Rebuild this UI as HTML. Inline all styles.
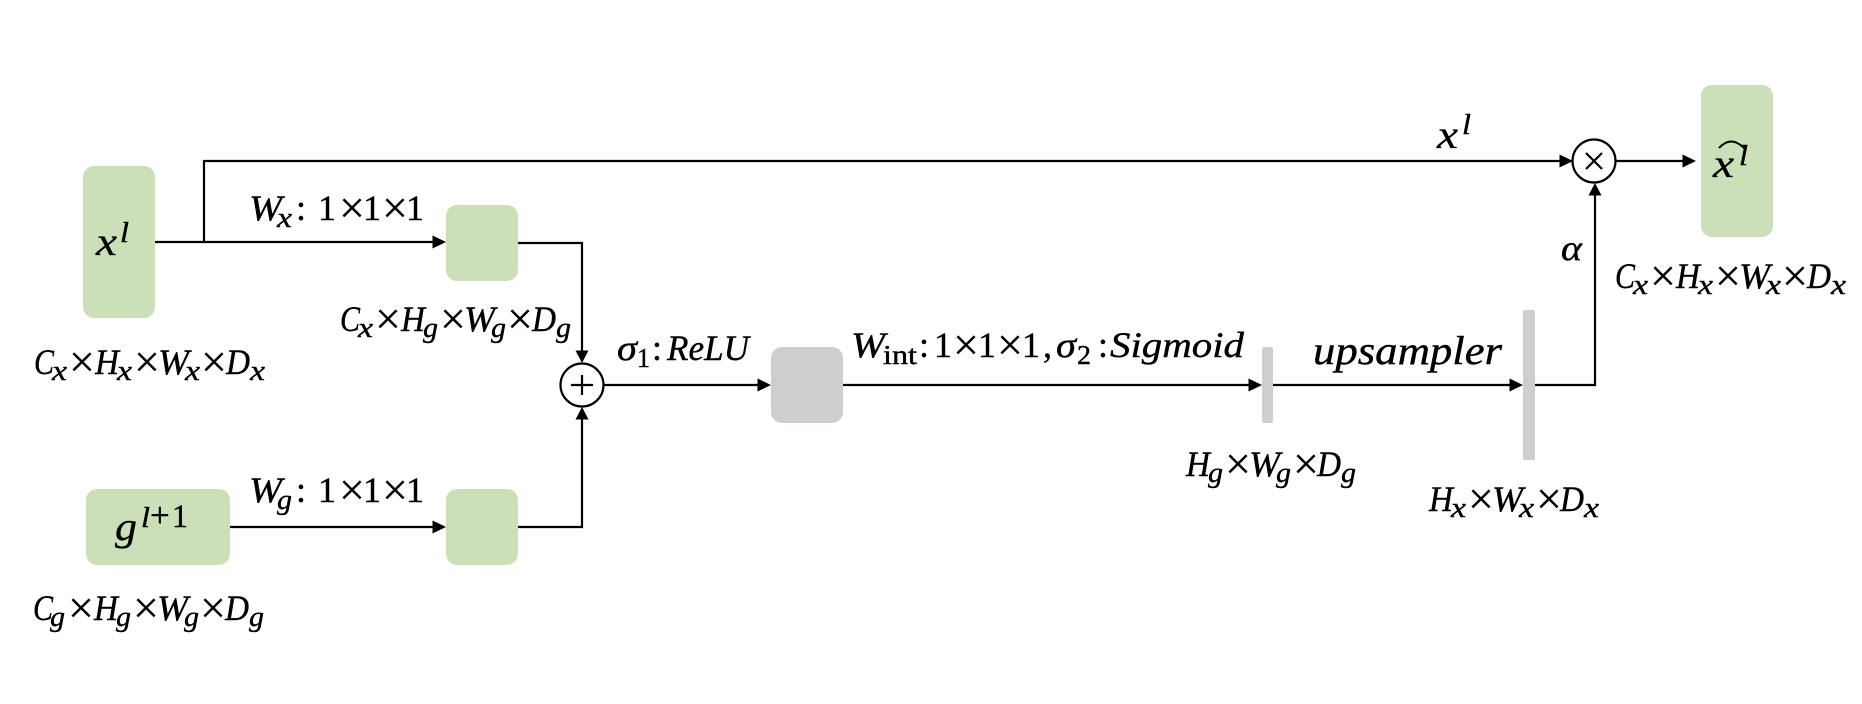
<!DOCTYPE html>
<html><head><meta charset="utf-8">
<style>
html,body{margin:0;padding:0;background:#fff}
svg{display:block}
text{fill:#000;stroke:#000;stroke-width:.4px;font-family:"Liberation Serif",serif;font-size:36px}
.i{font-style:italic}
.s{font-style:italic;font-size:29px}
.r{font-size:27px}
.m{font-size:46px;stroke-width:.2px}
.b{font-style:italic;font-size:40px;stroke-width:.3px}
.u{font-style:italic;font-size:29px}
</style></head><body>
<svg width="1862" height="704" viewBox="0 0 1862 704" xmlns="http://www.w3.org/2000/svg">
<rect width="1862" height="704" fill="#fff"/>
<g fill="#CBDFB8">
<rect x="83" y="166" width="72" height="152" rx="11"/>
<rect x="446" y="205" width="72" height="76" rx="11"/>
<rect x="86" y="489" width="144" height="76" rx="11"/>
<rect x="446" y="489" width="72" height="76" rx="11"/>
<rect x="1701" y="85" width="72" height="152" rx="11"/>
</g>
<g fill="#CFCDCE">
<rect x="771" y="347" width="72" height="76" rx="11"/>
<rect x="1262" y="347" width="11" height="76" rx="2"/>
<rect x="1523" y="310" width="12" height="150" rx="2"/>
</g>
<g fill="none" stroke="#000" stroke-width="2.2">
<path d="M155 242H434"/>
<path d="M204 242V161H1561"/>
<path d="M518 243H582V352"/>
<path d="M230 527H434"/>
<path d="M518 527H582V418"/>
<path d="M604 385H758"/>
<path d="M843 385H1249"/>
<path d="M1273 385H1511"/>
<path d="M1535 385H1595V195"/>
<path d="M1615 161H1684"/>
<circle cx="582" cy="385" r="21.5"/>
<circle cx="1594" cy="161" r="21.5"/>
<path d="M582 375V395M571 385H593"/>
<path d="M1586 153L1602 169M1602 153L1586 169"/>
<path d="M1719 148Q1731 135 1744 148" stroke-width="2"/>
</g>
<g fill="#000">
<path d="M446 242L432.500 235.500V248.500Z"/>
<path d="M582 363L575.500 350.500H588.500Z"/>
<path d="M446 527L432.500 520.500V533.500Z"/>
<path d="M582 407L575.500 419.500H588.500Z"/>
<path d="M771 385L757.500 378.500V391.500Z"/>
<path d="M1262 385L1248.500 378.500V391.500Z"/>
<path d="M1523 385L1509.500 378.500V391.500Z"/>
<path d="M1595 183L1588.500 195.500H1601.500Z"/>
<path d="M1573 161L1559.500 154.500V167.500Z"/>
<path d="M1696 161L1682.500 154.500V167.500Z"/>
</g>

<!-- x^l in box -->
<text class="b" x="96" y="255" textLength="21" lengthAdjust="spacingAndGlyphs">x</text>
<text class="u" x="120" y="242" textLength="9" lengthAdjust="spacingAndGlyphs">l</text>

<!-- Wx 1x1x1 -->
<text class="i" x="249" y="220" textLength="33" lengthAdjust="spacingAndGlyphs">W</text>
<text class="s" x="277" y="227" textLength="15" lengthAdjust="spacingAndGlyphs">x</text>
<text x="296" y="220">:</text>
<text x="318" y="220" textLength="18" lengthAdjust="spacingAndGlyphs">1</text>
<text class="m" x="339" y="223">×</text>
<text x="363" y="220" textLength="18" lengthAdjust="spacingAndGlyphs">1</text>
<text class="m" x="382" y="223">×</text>
<text x="406" y="220" textLength="18" lengthAdjust="spacingAndGlyphs">1</text>

<!-- Cx Hg Wg Dg (mid) -->
<text class="i" x="340" y="331" textLength="20" lengthAdjust="spacingAndGlyphs">C</text>
<text class="s" x="358" y="337" textLength="15" lengthAdjust="spacingAndGlyphs">x</text>
<text class="m" x="375" y="334">×</text>
<text class="i" x="401" y="331" textLength="24" lengthAdjust="spacingAndGlyphs">H</text>
<text class="s" x="423" y="337" textLength="15" lengthAdjust="spacingAndGlyphs">g</text>
<text class="m" x="440" y="334">×</text>
<text class="i" x="464" y="331" textLength="31" lengthAdjust="spacingAndGlyphs">W</text>
<text class="s" x="491" y="337" textLength="15" lengthAdjust="spacingAndGlyphs">g</text>
<text class="m" x="507" y="334">×</text>
<text class="i" x="532" y="331" textLength="24" lengthAdjust="spacingAndGlyphs">D</text>
<text class="s" x="556" y="337" textLength="15" lengthAdjust="spacingAndGlyphs">g</text>

<!-- Cx Hx Wx Dx (left) -->
<text class="i" x="34" y="374" textLength="20" lengthAdjust="spacingAndGlyphs">C</text>
<text class="s" x="52" y="380" textLength="15" lengthAdjust="spacingAndGlyphs">x</text>
<text class="m" x="69" y="377">×</text>
<text class="i" x="95" y="374" textLength="24" lengthAdjust="spacingAndGlyphs">H</text>
<text class="s" x="117" y="380" textLength="15" lengthAdjust="spacingAndGlyphs">x</text>
<text class="m" x="134" y="377">×</text>
<text class="i" x="158" y="374" textLength="31" lengthAdjust="spacingAndGlyphs">W</text>
<text class="s" x="185" y="380" textLength="15" lengthAdjust="spacingAndGlyphs">x</text>
<text class="m" x="201" y="377">×</text>
<text class="i" x="226" y="374" textLength="24" lengthAdjust="spacingAndGlyphs">D</text>
<text class="s" x="250" y="380" textLength="15" lengthAdjust="spacingAndGlyphs">x</text>

<!-- g^{l+1} -->
<text class="b" x="115" y="540" textLength="22" lengthAdjust="spacingAndGlyphs">g</text>
<text class="u" x="141" y="527" textLength="9" lengthAdjust="spacingAndGlyphs">l</text>
<text x="150" y="527" style="font-size:35px">+</text>
<text x="172" y="527" style="font-size:33px" textLength="16" lengthAdjust="spacingAndGlyphs">1</text>

<!-- Wg 1x1x1 -->
<text class="i" x="249" y="502" textLength="33" lengthAdjust="spacingAndGlyphs">W</text>
<text class="s" x="277" y="509" textLength="15" lengthAdjust="spacingAndGlyphs">g</text>
<text x="296" y="502">:</text>
<text x="318" y="502" textLength="18" lengthAdjust="spacingAndGlyphs">1</text>
<text class="m" x="339" y="505">×</text>
<text x="363" y="502" textLength="18" lengthAdjust="spacingAndGlyphs">1</text>
<text class="m" x="382" y="505">×</text>
<text x="406" y="502" textLength="18" lengthAdjust="spacingAndGlyphs">1</text>

<!-- Cg Hg Wg Dg (left) -->
<text class="i" x="33" y="620" textLength="20" lengthAdjust="spacingAndGlyphs">C</text>
<text class="s" x="50" y="626" textLength="15" lengthAdjust="spacingAndGlyphs">g</text>
<text class="m" x="68" y="623">×</text>
<text class="i" x="94" y="620" textLength="24" lengthAdjust="spacingAndGlyphs">H</text>
<text class="s" x="116" y="626" textLength="15" lengthAdjust="spacingAndGlyphs">g</text>
<text class="m" x="133" y="623">×</text>
<text class="i" x="157" y="620" textLength="31" lengthAdjust="spacingAndGlyphs">W</text>
<text class="s" x="184" y="626" textLength="15" lengthAdjust="spacingAndGlyphs">g</text>
<text class="m" x="200" y="623">×</text>
<text class="i" x="225" y="620" textLength="24" lengthAdjust="spacingAndGlyphs">D</text>
<text class="s" x="249" y="626" textLength="15" lengthAdjust="spacingAndGlyphs">g</text>

<!-- sigma1 ReLU -->
<text class="i" x="617" y="360" textLength="20" lengthAdjust="spacingAndGlyphs">σ</text>
<text class="r" x="637" y="367" textLength="13" lengthAdjust="spacingAndGlyphs">1</text>
<text x="652" y="360">:</text>
<text class="i" x="667" y="360" textLength="82" lengthAdjust="spacingAndGlyphs">ReLU</text>

<!-- Wint ... Sigmoid -->
<text class="i" x="851" y="357" textLength="34" lengthAdjust="spacingAndGlyphs">W</text>
<text class="r" x="883" y="364" textLength="34" lengthAdjust="spacingAndGlyphs">int</text>
<text x="919" y="357">:</text>
<text x="934" y="357" textLength="18" lengthAdjust="spacingAndGlyphs">1</text>
<text class="m" x="953" y="360">×</text>
<text x="978" y="357" textLength="18" lengthAdjust="spacingAndGlyphs">1</text>
<text class="m" x="997" y="360">×</text>
<text x="1022" y="357" textLength="18" lengthAdjust="spacingAndGlyphs">1</text>
<text x="1043" y="357">,</text>
<text class="i" x="1056" y="357" textLength="20" lengthAdjust="spacingAndGlyphs">σ</text>
<text class="r" x="1077" y="364" textLength="14" lengthAdjust="spacingAndGlyphs">2</text>
<text x="1098" y="357">:</text>
<text class="i" x="1110" y="357" textLength="134" lengthAdjust="spacingAndGlyphs">Sigmoid</text>

<!-- Hg Wg Dg -->
<text class="i" x="1186" y="476" textLength="24" lengthAdjust="spacingAndGlyphs">H</text>
<text class="s" x="1208" y="482" textLength="15" lengthAdjust="spacingAndGlyphs">g</text>
<text class="m" x="1225" y="479">×</text>
<text class="i" x="1249" y="476" textLength="31" lengthAdjust="spacingAndGlyphs">W</text>
<text class="s" x="1276" y="482" textLength="15" lengthAdjust="spacingAndGlyphs">g</text>
<text class="m" x="1293" y="479">×</text>
<text class="i" x="1317" y="476" textLength="24" lengthAdjust="spacingAndGlyphs">D</text>
<text class="s" x="1341" y="482" textLength="15" lengthAdjust="spacingAndGlyphs">g</text>

<!-- upsampler -->
<text class="i" x="1313" y="364" style="font-size:40px" textLength="189" lengthAdjust="spacingAndGlyphs">upsampler</text>

<!-- Hx Wx Dx -->
<text class="i" x="1429" y="511" textLength="24" lengthAdjust="spacingAndGlyphs">H</text>
<text class="s" x="1451" y="517" textLength="15" lengthAdjust="spacingAndGlyphs">x</text>
<text class="m" x="1468" y="514">×</text>
<text class="i" x="1492" y="511" textLength="31" lengthAdjust="spacingAndGlyphs">W</text>
<text class="s" x="1519" y="517" textLength="15" lengthAdjust="spacingAndGlyphs">x</text>
<text class="m" x="1536" y="514">×</text>
<text class="i" x="1560" y="511" textLength="24" lengthAdjust="spacingAndGlyphs">D</text>
<text class="s" x="1584" y="517" textLength="15" lengthAdjust="spacingAndGlyphs">x</text>

<!-- x^l top -->
<text class="b" x="1437" y="148" textLength="21" lengthAdjust="spacingAndGlyphs">x</text>
<text class="u" x="1462" y="134" textLength="9" lengthAdjust="spacingAndGlyphs">l</text>

<!-- alpha -->
<text class="i" x="1561" y="260" textLength="21" lengthAdjust="spacingAndGlyphs">α</text>

<!-- x hat l -->
<text class="b" x="1713" y="177" textLength="21" lengthAdjust="spacingAndGlyphs">x</text>
<text class="u" x="1739" y="165" textLength="9" lengthAdjust="spacingAndGlyphs">l</text>

<!-- Cx Hx Wx Dx (right) -->
<text class="i" x="1615" y="288" textLength="20" lengthAdjust="spacingAndGlyphs">C</text>
<text class="s" x="1633" y="294" textLength="15" lengthAdjust="spacingAndGlyphs">x</text>
<text class="m" x="1650" y="291">×</text>
<text class="i" x="1676" y="288" textLength="24" lengthAdjust="spacingAndGlyphs">H</text>
<text class="s" x="1698" y="294" textLength="15" lengthAdjust="spacingAndGlyphs">x</text>
<text class="m" x="1715" y="291">×</text>
<text class="i" x="1739" y="288" textLength="31" lengthAdjust="spacingAndGlyphs">W</text>
<text class="s" x="1766" y="294" textLength="15" lengthAdjust="spacingAndGlyphs">x</text>
<text class="m" x="1782" y="291">×</text>
<text class="i" x="1807" y="288" textLength="24" lengthAdjust="spacingAndGlyphs">D</text>
<text class="s" x="1831" y="294" textLength="15" lengthAdjust="spacingAndGlyphs">x</text>
</svg>
</body></html>
